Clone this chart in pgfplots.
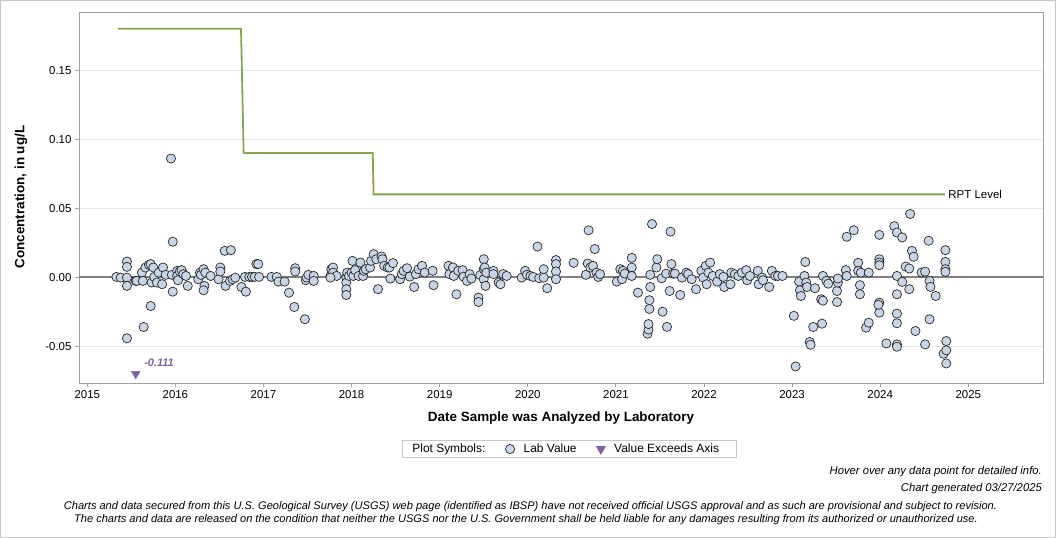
\documentclass[border=0pt]{standalone}
\usepackage{fontspec}
\setmainfont{Liberation Sans}
\usepackage{pgfplots}
\pgfplotsset{compat=1.18}
\definecolor{rptgreen}{RGB}{132,166,76}
\definecolor{ptfill}{RGB}{200,213,230}
\definecolor{ptedge}{RGB}{40,40,40}
\definecolor{exceed}{RGB}{125,98,160}
\definecolor{framegray}{RGB}{160,160,160}
\definecolor{gridgray}{RGB}{232,232,232}
\definecolor{zerogray}{RGB}{128,128,128}
\definecolor{bordergray}{RGB}{200,200,200}

\pgfplotstableread{
x y
2015.33 0.0002
2015.38 -0.0003
2015.45 -0.0003
2015.45 0.0113
2015.45 0.0075
2015.45 -0.0063
2015.45 -0.0443
2015.55 -0.0027
2015.56 -0.0027
2015.62 0.0033
2015.63 -0.0027
2015.64 -0.0361
2015.66 0.0070
2015.70 0.0089
2015.72 0.0095
2015.73 -0.0039
2015.72 -0.0209
2015.75 0.0070
2015.76 0.0002
2015.79 -0.0039
2015.81 0.0033
2015.85 -0.0051
2015.86 0.0070
2015.89 0.0017
2015.95 0.0860
2015.96 0.0017
2015.97 -0.0105
2015.97 0.0257
2016.02 0.0046
2016.02 0.0009
2016.03 -0.0022
2016.05 0.0041
2016.07 0.0051
2016.09 0.0022
2016.12 0.0009
2016.14 -0.0063
2016.26 -0.0015
2016.28 0.0033
2016.29 0.0017
2016.32 0.0058
2016.33 -0.0063
2016.32 -0.0095
2016.34 0.0033
2016.40 0.0009
2016.49 -0.0015
2016.51 0.0070
2016.51 0.0041
2016.56 0.0191
2016.57 -0.0063
2016.62 -0.0027
2016.63 0.0196
2016.65 -0.0015
2016.68 -0.0003
2016.75 -0.0071
2016.79 0.0002
2016.80 -0.0105
2016.84 0.0002
2016.87 0.0002
2016.90 0.0002
2016.92 0.0095
2016.94 0.0095
2016.95 0.0002
2017.09 0.0002
2017.15 0.0002
2017.17 -0.0032
2017.24 -0.0032
2017.29 -0.0112
2017.35 -0.0216
2017.36 0.0065
2017.36 0.0041
2017.47 -0.0305
2017.48 -0.0022
2017.49 -0.0003
2017.51 0.0017
2017.57 0.0009
2017.57 -0.0027
2017.76 0.0009
2017.77 0.0058
2017.79 0.0070
2017.79 0.0033
2017.83 0.0009
2017.76 -0.0003
2017.94 -0.0003
2017.94 -0.0039
2017.94 -0.0087
2017.94 -0.0129
2017.95 0.0033
2017.97 0.0009
2018.01 0.0118
2018.00 0.0033
2018.02 0.0009
2018.04 0.0051
2018.08 0.0009
2018.10 0.0106
2018.13 0.0009
2018.14 0.0046
2018.16 0.0058
2018.21 0.0070
2018.22 0.0118
2018.25 0.0167
2018.28 0.0130
2018.30 -0.0087
2018.34 0.0150
2018.35 0.0130
2018.37 0.0082
2018.41 0.0070
2018.43 0.0070
2018.47 0.0102
2018.44 -0.0010
2018.55 -0.0015
2018.57 0.0022
2018.59 0.0046
2018.63 0.0065
2018.66 0.0004
2018.71 -0.0071
2018.73 0.0022
2018.76 0.0058
2018.80 0.0082
2018.83 0.0033
2018.92 0.0046
2018.93 -0.0058
2019.10 0.0082
2019.11 0.0022
2019.15 0.0070
2019.16 0.0009
2019.19 -0.0124
2019.21 0.0046
2019.26 0.0051
2019.27 0.0004
2019.31 -0.0027
2019.34 0.0022
2019.36 -0.0010
2019.44 -0.0148
2019.44 -0.0180
2019.46 0.0015
2019.50 0.0130
2019.50 0.0058
2019.50 -0.0015
2019.52 -0.0063
2019.51 0.0070
2019.53 0.0033
2019.61 0.0046
2019.61 0.0022
2019.67 -0.0039
2019.69 -0.0051
2019.72 0.0022
2019.76 0.0009
2019.93 -0.0003
2019.97 0.0046
2019.99 0.0017
2020.03 0.0009
2020.06 0.0002
2020.11 0.0222
2020.13 -0.0008
2020.18 -0.0003
2020.18 0.0058
2020.22 -0.0080
2020.32 0.0124
2020.32 0.0095
2020.32 0.0041
2020.32 -0.0015
2020.52 0.0104
2020.66 0.0017
2020.68 0.0099
2020.69 0.0340
2020.71 0.0070
2020.74 0.0082
2020.76 0.0204
2020.78 0.0033
2020.80 0.0002
2020.82 0.0022
2021.01 -0.0032
2021.05 0.0058
2021.07 -0.0015
2021.08 0.0046
2021.10 0.0026
2021.18 0.0140
2021.18 0.0070
2021.18 0.0009
2021.25 -0.0112
2021.36 -0.0410
2021.37 -0.0380
2021.37 -0.0340
2021.38 -0.0230
2021.38 -0.0167
2021.39 -0.0071
2021.39 0.0017
2021.41 0.0385
2021.46 0.0070
2021.47 0.0130
2021.52 -0.0008
2021.53 -0.0250
2021.57 0.0026
2021.58 -0.0360
2021.61 -0.0100
2021.62 0.0330
2021.63 0.0095
2021.65 0.0026
2021.67 0.0026
2021.73 -0.0129
2021.75 -0.0003
2021.80 0.0033
2021.82 0.0022
2021.86 -0.0015
2021.91 -0.0087
2021.97 0.0046
2021.99 -0.0003
2022.02 0.0082
2022.03 -0.0051
2022.05 0.0033
2022.07 0.0106
2022.10 0.0009
2022.15 -0.0032
2022.18 0.0022
2022.22 0.0002
2022.23 -0.0071
2022.30 -0.0051
2022.31 0.0033
2022.35 0.0022
2022.39 0.0009
2022.43 0.0033
2022.48 0.0051
2022.49 -0.0022
2022.52 0.0009
2022.61 0.0046
2022.62 -0.0051
2022.66 -0.0003
2022.67 -0.0022
2022.74 -0.0071
2022.77 0.0046
2022.81 0.0009
2022.84 0.0009
2022.89 0.0009
2023.02 -0.0280
2023.04 -0.0647
2023.08 -0.0032
2023.09 -0.0095
2023.10 -0.0136
2023.14 0.0009
2023.15 0.0110
2023.16 -0.0039
2023.17 -0.0071
2023.20 -0.0470
2023.21 -0.0490
2023.24 -0.0361
2023.26 -0.0080
2023.33 -0.0160
2023.34 -0.0337
2023.35 -0.0170
2023.35 0.0009
2023.39 -0.0027
2023.41 -0.0047
2023.51 -0.0100
2023.51 -0.0180
2023.52 -0.0039
2023.52 -0.0010
2023.61 0.0051
2023.62 0.0009
2023.62 0.0293
2023.70 0.0340
2023.75 0.0104
2023.75 0.0046
2023.78 0.0033
2023.77 -0.0058
2023.77 -0.0124
2023.84 -0.0366
2023.87 -0.0330
2023.87 0.0033
2023.99 0.0307
2023.99 0.0130
2023.99 0.0106
2023.99 0.0087
2023.99 -0.0185
2023.99 -0.0257
2023.98 -0.0200
2024.07 -0.0480
2024.16 0.0370
2024.19 0.0324
2024.25 0.0288
2024.19 0.0009
2024.19 -0.0124
2024.19 -0.0264
2024.19 -0.0334
2024.19 -0.0487
2024.19 -0.0504
2024.25 -0.0034
2024.29 0.0077
2024.33 0.0063
2024.33 -0.0087
2024.34 0.0458
2024.36 0.0191
2024.38 0.0148
2024.40 -0.0390
2024.47 0.0034
2024.51 0.0040
2024.51 -0.0487
2024.55 0.0264
2024.56 -0.0027
2024.57 -0.0070
2024.56 -0.0305
2024.63 -0.0136
2024.74 0.0196
2024.74 0.0111
2024.74 0.0058
2024.74 0.0039
2024.75 -0.0463
2024.72 -0.0555
2024.75 -0.0530
2024.75 -0.0625
}\labdata

\pgfplotstableread{
x y
2015.350 0.18
2016.745 0.18
2016.775 0.09
2018.240 0.09
2018.250 0.06
2024.735 0.06
}\rptdata

\begin{document}
\begin{tikzpicture}
\draw[bordergray, line width=1bp] (0.5bp,-0.5bp) rectangle (1055.5bp,-537.5bp);
\begin{axis}[
  at={(79bp,-383bp)}, anchor=south west,
  width=964bp, height=371bp, scale only axis,
  xmin=2014.906, xmax=2025.848, ymin=-0.0767, ymax=0.1922,
  axis line style={framegray, line width=0.8bp},
  xtick={2015,2016,2017,2018,2019,2020,2021,2022,2023,2024,2025},
  ytick={-0.05,0,0.05,0.1,0.15},
  ymajorgrids, major grid style={gridgray, line width=0.8bp},
  tick align=outside, tick pos=left, major tick length=4bp,
  tick style={framegray, line width=0.8bp},
  /pgf/number format/assume math mode=true,
  xticklabel style={/pgf/number format/1000 sep={}, /pgf/number format/fixed, /pgf/number format/precision=0},
  yticklabel style={/pgf/number format/fixed, /pgf/number format/fixed zerofill, /pgf/number format/precision=2},
  scaled y ticks=false, scaled x ticks=false,
  tick label style={font=\fontsize{11.5}{13}\selectfont, text=black},
  legend columns=3,
  legend style={at={(0.5085,-0.178)}, anchor=center, draw=bordergray, line width=0.8bp,
    font=\fontsize{12}{13}\selectfont, inner xsep=1bp, inner ysep=1.5bp,
    /tikz/every odd column/.append style={column sep=7bp},
    /tikz/every even column/.append style={column sep=18bp}},
  legend cell align=left,
]
\addlegendimage{empty legend}
\addlegendentry{Plot Symbols:}
\draw[zerogray, line width=1.6bp] (axis cs:2014.906,0) -- (axis cs:2025.848,0);
\addplot[rptgreen, line width=1.8bp, forget plot] table[x=x,y=y] {\rptdata};
\node[anchor=west, font=\fontsize{11.5}{13}\selectfont, inner sep=2bp] at (axis cs:2024.75,0.06) {RPT Level};
\addplot[only marks, mark=*, mark size=4.6bp, mark options={fill=ptfill, draw=ptedge, line width=0.7bp}] table[x=x,y=y] {\labdata};
\addlegendentry{Lab Value}
\addplot[only marks, mark=triangle*, mark size=5bp, mark options={rotate=180, fill=exceed, draw=exceed}] coordinates {(2015.55,-0.0701)};
\addlegendentry{Value Exceeds Axis\hspace*{14bp}\mbox{}}
\node[anchor=west, inner sep=0pt, text=exceed, font=\bfseries\itshape\fontsize{11}{13}\selectfont] at (axis cs:2015.645,-0.0623) {-0.111};
\end{axis}
\node[font=\bfseries\fontsize{13.5}{15}\selectfont] at (561bp,-418bp) {Date Sample was Analyzed by Laboratory};
\node[font=\bfseries\fontsize{13.5}{15}\selectfont, rotate=90] at (21bp,-197bp) {Concentration, in ug/L};
\node[anchor=east, font=\itshape\fontsize{11.3}{13}\selectfont, inner sep=0pt] at (1042bp,-472bp) {Hover over any data point for detailed info.};
\node[anchor=east, font=\itshape\fontsize{11.3}{13}\selectfont, inner sep=0pt] at (1042bp,-489bp) {Chart generated 03/27/2025};
\node[font=\itshape\fontsize{11.1}{12}\selectfont, inner sep=0pt] at (530.5bp,-507bp) {Charts and data secured from this U.S. Geological Survey (USGS) web page (identified as IBSP) have not received official USGS approval and as such are provisional and subject to revision.};
\node[font=\itshape\fontsize{11.1}{12}\selectfont, inner sep=0pt] at (526bp,-520bp) {The charts and data are released on the condition that neither the USGS nor the U.S. Government shall be held liable for any damages resulting from its authorized or unauthorized use.};
\end{tikzpicture}
\end{document}
